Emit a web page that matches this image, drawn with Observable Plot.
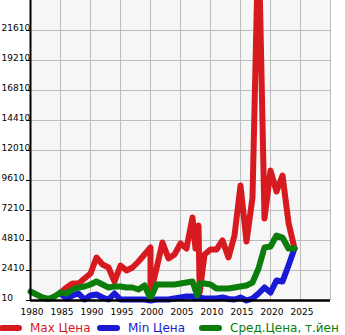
<!DOCTYPE html>
<html><head><meta charset="utf-8">
<script src="https://cdn.jsdelivr.net/npm/d3@7"></script>
<script src="https://cdn.jsdelivr.net/npm/@observablehq/plot@0.6"></script>
<style>
body{margin:0;background:#fff;width:345px;height:335px;overflow:hidden;position:relative;font-family:"DejaVu Sans",sans-serif;}
#chart{position:absolute;left:0;top:0;}
.item{position:absolute;top:320px;height:16px;line-height:16px;font-size:12px;white-space:nowrap;}
.sw{display:inline-block;width:23px;height:6px;border-radius:3px;vertical-align:middle;margin-right:8px;position:relative;top:-1px;}
</style></head><body>
<div id="chart"></div>
<div id="legend"></div>
<script>
// ---- data ----
const xDomain = [1980, 2030];
const yDomain = [10, 24010];
const xTickYears = [1980, 1985, 1990, 1995, 2000, 2005, 2010, 2015, 2020, 2025];
const xGridYears = [1985, 1990, 1995, 2000, 2005, 2010, 2015, 2020, 2025, 2030];
const yTicks = [10, 2410, 4810, 7210, 9610, 12010, 14410, 16810, 19210, 21610];
const yTickLabels = ["10", "2410", "4810", "7210", "9610", "12010", "14410", "16810", "19210", "21610"];

const seriesNames = ["Max Цена", "Min Цена", "Сред.Цена, т.йен"];
const seriesColors = ["#d71a1f", "#1a1ad6", "#0b7d0b"];

const maxYears = [1985, 1986, 1987, 1988, 1989, 1990, 1991, 1992, 1993, 1994, 1995, 1996, 1997, 1998, 1999, 2000, 2000, 2001, 2002, 2003, 2004, 2005, 2006, 2007, 2007.5, 2008, 2008.2, 2009, 2010, 2011, 2012, 2013, 2014, 2015, 2016, 2017, 2018, 2019, 2020, 2021, 2022, 2023, 2024];
const maxValues = [650, 1050, 1370, 1370, 1770, 2170, 3450, 2890, 2650, 1530, 2810, 2410, 2650, 3130, 3690, 4250, 570, 2570, 4650, 3370, 3690, 4570, 4170, 6650, 4170, 6010, 650, 3690, 4090, 4090, 4810, 3450, 5210, 9210, 4730, 8250, 29530, 6570, 10410, 8730, 10010, 6250, 4170];

const minYears = [1985, 1986, 1987, 1988, 1989, 1990, 1991, 1992, 1993, 1994, 1995, 1996, 1997, 1998, 1999, 2000, 2001, 2002, 2003, 2004, 2005, 2006, 2007, 2007.5, 2008, 2009, 2010, 2011, 2012, 2013, 2014, 2015, 2016, 2017, 2018, 2019, 2020, 2021, 2022, 2023, 2024];
const minValues = [570, 170, 410, 570, 90, 410, 490, 250, 90, 570, 90, 90, 90, 90, 90, 10, 90, 90, 90, 170, 250, 330, 330, 170, 250, 170, 170, 170, 250, 130, 90, 250, 10, 170, 570, 1050, 650, 1610, 1530, 2810, 4170];

const avgYears = [1980, 1981, 1982, 1983, 1984, 1985, 1986, 1987, 1988, 1989, 1990, 1991, 1992, 1993, 1994, 1995, 1996, 1997, 1998, 1999, 2000, 2001, 2002, 2003, 2004, 2005, 2006, 2007, 2007.8, 2008.2, 2009, 2010, 2011, 2012, 2013, 2014, 2015, 2016, 2017, 2018, 2019, 2020, 2021, 2022, 2023, 2024];
const avgValues = [730, 490, 250, 130, 330, 650, 570, 890, 1050, 1130, 1290, 1530, 1290, 1050, 1130, 1130, 1050, 1050, 890, 1210, 170, 1290, 1290, 1290, 1290, 1370, 1450, 1530, 410, 1370, 1370, 1290, 970, 970, 970, 1050, 1130, 1210, 1450, 2570, 4250, 4330, 5210, 5050, 4170, 4170];

// ---- build ----
const toRows = (xs, ys) => xs.map((x, i) => ({x, y: ys[i]}));
const maxData = toRows(maxYears, maxValues);
const minData = toRows(minYears, minValues);
const avgData = toRows(avgYears, avgValues);
const lineOpts = {x: "x", y: "y", strokeWidth: 6, strokeLinejoin: "round", strokeLinecap: "round"};

const chart = Plot.plot({
  width: 345,
  height: 318,
  marginTop: 0,
  marginLeft: 30,
  marginRight: 15,
  marginBottom: 18,
  x: {domain: xDomain, axis: null},
  y: {domain: yDomain, axis: null},
  style: {fontFamily: "DejaVu Sans", fontSize: "9px", background: "transparent", color: "black"},
  marks: [
    Plot.frame({fill: "#f6f6f6", stroke: null}),
    Plot.ruleX(xGridYears, {stroke: "#bdbdbd", strokeWidth: 1}),
    Plot.ruleY(yTicks.slice(1), {stroke: "#bdbdbd", strokeWidth: 1}),
    Plot.line(maxData, {...lineOpts, stroke: seriesColors[0]}),
    Plot.line(minData, {...lineOpts, stroke: seriesColors[1]}),
    Plot.line(avgData, {...lineOpts, stroke: seriesColors[2]}),
    Plot.ruleX([xDomain[0]], {stroke: "black", strokeWidth: 2}),
    Plot.ruleY([yDomain[0]], {stroke: "black", strokeWidth: 2.5}),
    Plot.ruleY(yTicks, {x1: () => xDomain[0], x2: () => xDomain[0], insetLeft: -4, stroke: "black", strokeWidth: 1}),
    Plot.text(yTicks, {y: d => d, text: (d, i) => yTickLabels[i], frameAnchor: "left", dx: -29, textAnchor: "start", lineAnchor: "bottom", fill: "black"}),
    Plot.text(xTickYears, {x: d => d, text: d => String(d), frameAnchor: "bottom", dy: 8, dx: 1.5, lineAnchor: "top", fill: "black"})
  ]
});
document.getElementById("chart").appendChild(chart);

const legendLefts = [-1, 97, 199];
const legend = document.getElementById("legend");
seriesNames.forEach((name, i) => {
  const item = document.createElement("div");
  item.className = "item";
  item.style.left = legendLefts[i] + "px";
  item.style.color = seriesColors[i];
  item.innerHTML = `<span class="sw" style="background:${seriesColors[i]}"></span>${name}`;
  legend.appendChild(item);
});
</script>
</body></html>
